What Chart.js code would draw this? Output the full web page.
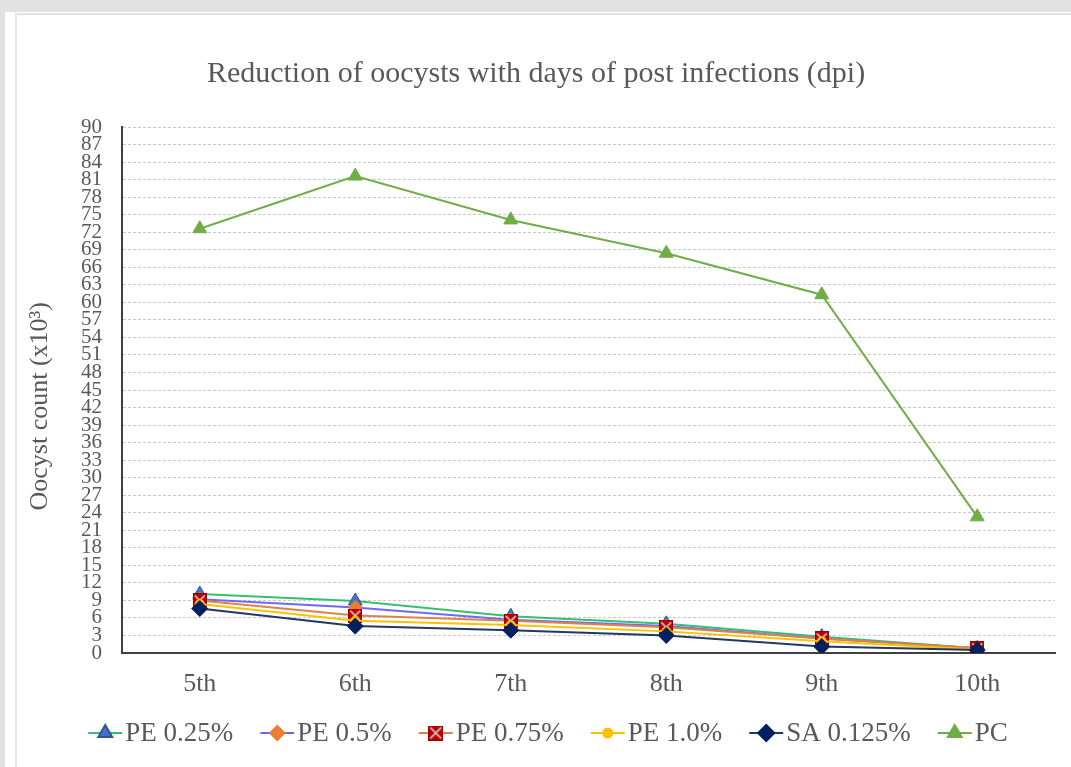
<!DOCTYPE html>
<html>
<head>
<meta charset="utf-8">
<script src="https://cdn.jsdelivr.net/npm/chart.js@4"></script>
<style>
    html, body { margin: 0; padding: 0; }
    body { width: 1071px; height: 767px; background: #e1e1e1; position: relative; overflow: hidden; }
    .card { position: absolute; left: 5px; top: 12px; right: 0; bottom: 0; background: #fff; }
    .inner { position: absolute; left: 10px; top: 1px; right: 0; bottom: 0; border-left: 2px solid #e4e4e4; border-top: 2px solid #e4e4e4; background: #fff; }
    #wrap { position: absolute; left: 0; top: 0; width: 1054px; height: 752px; }
</style>
</head>
<body>
<div class="card"><div class="inner"><div id="wrap"><canvas id="chart" width="1054" height="752"></canvas></div></div></div>
<script>
// data
const days = ["5th", "6th", "7th", "8th", "9th", "10th"];
const pe025 = [10.1, 8.9, 6.3, 5.0, 2.8, 0.8];
const pe05 = [9.2, 7.8, 5.7, 4.6, 2.5, 0.8];
const pe075 = [9.0, 6.4, 5.5, 4.4, 2.5, 0.8];
const pe10 = [8.4, 5.5, 4.8, 3.7, 2.0, 0.6];
const sa0125 = [7.6, 4.6, 3.9, 3.0, 1.1, 0.5];
const pc = [72.6, 81.6, 74.1, 68.4, 61.3, 23.3];
const yMin = 0, yMax = 90, yStep = 3;

const FONT = "'Liberation Serif', 'Times New Roman', serif";
const GREY = "#595959";

// red square with light X for PE 0.75%
function crossSquare(size) {
    const c = document.createElement("canvas");
    c.width = size; c.height = size;
    const g = c.getContext("2d");
    g.fillStyle = "#c00000";
    g.fillRect(0, 0, size, size);
    g.strokeStyle = "#9a0000";
    g.lineWidth = 1;
    g.strokeRect(0.5, 0.5, size - 1, size - 1);
    g.strokeStyle = "#d8d8d8";
    g.lineWidth = 1.6;
    g.beginPath();
    g.moveTo(2, 2); g.lineTo(size - 2, size - 2);
    g.moveTo(size - 2, 2); g.lineTo(2, size - 2);
    g.stroke();
    return c;
}
const sqImg = crossSquare(14);
const sqImgLegend = crossSquare(15);

const series = [
    { label: "PE 0.25%", data: pe025, line: "#35c070", fill: "#4472c4", edge: "#2f5597", style: "triangle", r: 8, order: 4 },
    { label: "PE 0.5%", data: pe05, line: "#6f66ff", fill: "#ed7d31", edge: "#ed7d31", style: "rectRot", r: 7, order: 3 },
    { label: "PE 0.75%", data: pe075, line: "#de8347", fill: "#c00000", edge: "#9a0000", style: sqImg, r: 7, order: 2 },
    { label: "PE 1.0%", data: pe10, line: "#ffc000", fill: "#ffc000", edge: "#ffc000", style: "circle", r: 4.5, order: 1 },
    { label: "SA 0.125%", data: sa0125, line: "#1f3864", fill: "#002060", edge: "#002060", style: "rectRot", r: 8, order: 0 },
    { label: "PC", data: pc, line: "#70ad47", fill: "#70ad47", edge: "#70ad47", style: "triangle", r: 8, order: 5 }
];

// legend drawn as line + marker, like the office legend
const lineLegend = {
    id: "lineLegend",
    afterDraw(chart) {
        const ctx = chart.ctx;
        const y = 718;
        const lineLen = 34, textGap = 3, itemGap = 27;
        ctx.save();
        ctx.font = "27px " + FONT;
        const widths = series.map(s => ctx.measureText(s.label).width);
        let total = 0;
        widths.forEach((w, i) => { total += lineLen + textGap + w + (i ? itemGap : 0); });
        let x = chart.width / 2 - total / 2 + 4;
        series.forEach((s, i) => {
            ctx.strokeStyle = s.line;
            ctx.lineWidth = 2;
            ctx.beginPath();
            ctx.moveTo(x, y); ctx.lineTo(x + lineLen, y);
            ctx.stroke();
            const cx = x + lineLen / 2;
            if (s.style === sqImg) {
                ctx.drawImage(sqImgLegend, cx - 7.5, y - 7.5);
            } else {
                ctx.fillStyle = s.fill;
                ctx.strokeStyle = s.edge;
                Chart.helpers.drawPoint(ctx, { pointStyle: s.style, radius: s.r, borderWidth: 1, rotation: 0 }, cx, y);
            }
            ctx.fillStyle = GREY;
            ctx.textAlign = "left";
            ctx.textBaseline = "middle";
            ctx.fillText(s.label, x + lineLen + textGap, y + 1);
            x += lineLen + textGap + widths[i] + itemGap;
        });
        ctx.restore();
    }
};

Chart.defaults.font.family = FONT;
Chart.defaults.color = GREY;

new Chart(document.getElementById("chart"), {
    type: "line",
    data: {
        labels: days,
        datasets: series.map(s => ({
            label: s.label,
            data: s.data,
            borderColor: s.line,
            borderWidth: 2,
            backgroundColor: s.fill,
            pointBackgroundColor: s.fill,
            pointBorderColor: s.edge,
            pointBorderWidth: 1,
            pointStyle: s.style,
            pointRadius: s.r,
            pointHoverRadius: s.r,
            tension: 0,
            order: s.order
        }))
    },
    options: {
        responsive: false,
        animation: false,
        layout: { padding: { left: 0, right: 16, top: 0, bottom: 60 } },
        plugins: {
            legend: { display: false },
            tooltip: { enabled: false },
            title: {
                display: true,
                text: "Reduction of oocysts with days of post infections (dpi)",
                color: GREY,
                font: { size: 30, weight: "normal", family: FONT },
                padding: { top: 41, bottom: 35 }
            }
        },
        scales: {
            x: {
                offset: true,
                grid: { display: false, drawTicks: false },
                border: { display: true, color: "#404040", width: 2 },
                ticks: { color: GREY, font: { size: 26 }, padding: 16, autoSkip: false, maxRotation: 0 },
                afterFit(scale) { scale.height = 54; }
            },
            y: {
                min: yMin,
                max: yMax,
                ticks: { stepSize: yStep, autoSkip: false, color: GREY, font: { size: 21 }, padding: 20 },
                grid: { color: "#c8c8c8", lineWidth: 1, drawTicks: false },
                border: { display: true, color: "#404040", width: 2, dash: [3, 2] },
                title: {
                    display: true,
                    text: "Oocyst count (x10³)\u00a0\u00a0\u00a0\u00a0\u00a0",
                    color: GREY,
                    font: { size: 26, family: FONT },
                    padding: { top: 8, bottom: 0 }
                },
                afterFit(scale) { scale.width = 105; }
            }
        }
    },
    plugins: [lineLegend]
});
</script>
</body>
</html>
